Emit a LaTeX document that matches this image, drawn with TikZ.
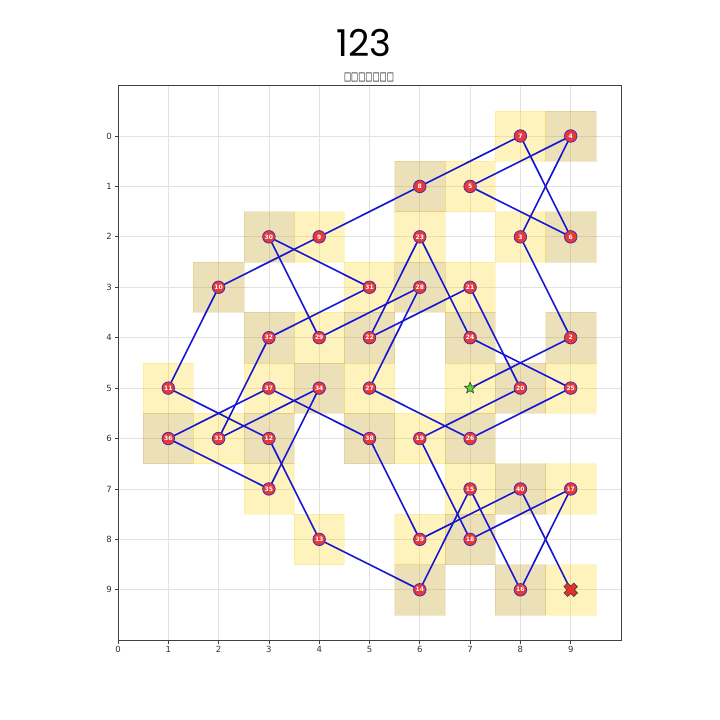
\documentclass[tikz,border=0pt]{standalone}
\usepackage{fontspec}
\setmainfont{DejaVu Sans}
\newfontfamily\titlefont{Poppins}
\usetikzlibrary{shapes.geometric}
\pgfdeclarelayer{back}
\pgfdeclarelayer{mid}
\pgfsetlayers{back,mid,main}
\definecolor{cellY}{RGB}{252,212,38}
\definecolor{cellT}{RGB}{195,155,25}
\definecolor{pathblue}{RGB}{22,22,210}
\definecolor{nodered}{RGB}{228,58,58}
\definecolor{nodeedge}{RGB}{80,40,165}
\definecolor{gridc}{RGB}{226,226,226}
\definecolor{starg}{RGB}{80,220,40}
\definecolor{xred}{RGB}{228,50,40}
\begin{document}
\begin{tikzpicture}[x=1pt,y=-1pt,
  pt/.style={circle, fill=nodered, draw=nodeedge, line width=0.8pt, minimum size=12.5pt, inner sep=0pt, font=\fontsize{6}{6}\selectfont\bfseries, text=white},
  link/.style={draw=pathblue, line width=1.6pt},
  ycell/.style={fill=cellY, fill opacity=0.3, draw=cellY, draw opacity=0.2, line width=0.5pt},
  tcell/.style={fill=cellT, fill opacity=0.3, draw=cellT, draw opacity=0.2, line width=0.5pt},
  gridline/.style={draw=gridc, line width=0.7pt},
  tickmark/.style={draw=black!75, line width=0.7pt},
  ticklab/.style={font=\fontsize{8.5}{9}\selectfont, text=black!80, inner sep=0pt}]
\useasboundingbox (0,0) rectangle (720,720);
\begin{pgfonlayer}{back}
  \fill[white] (0,0) rectangle (720,720);
\end{pgfonlayer}
\node[font=\titlefont\fontsize{37}{40}\selectfont, inner sep=0pt] (title) at (364,43) {123};
\node[font=\fontsize{10.5}{11}\selectfont, inner sep=0pt] (sub) at (369,77) {\scalebox{0.72}[1.1]{□□□□□□□}};
\begin{scope}[shift={(118pt,-136pt)}, x=50.3pt, y=-50.42pt]
  \begin{pgfonlayer}{back}
    \foreach \i in {0,...,9} {
      \draw[gridline] (\i,-1) -- (\i,10);
      \draw[gridline] (0,\i) -- (10,\i);
    }
    \foreach \x/\y in {8/0,7/1,4/2,6/2,8/2,5/3,7/3,4/4,1/5,3/5,5/5,7/5,9/5,2/6,6/6,3/7,7/7,9/7,4/8,6/8,9/9}
      \path[ycell] (\x-0.5,\y-0.5) rectangle (\x+0.5,\y+0.5);
    \foreach \x/\y in {9/0,6/1,3/2,9/2,2/3,6/3,3/4,5/4,7/4,9/4,4/5,8/5,1/6,3/6,5/6,7/6,8/7,7/8,6/9,8/9}
      \path[tcell] (\x-0.5,\y-0.5) rectangle (\x+0.5,\y+0.5);
  \end{pgfonlayer}
  % frame and ticks
  \draw[black!75, line width=0.8pt] (0,-1) rectangle (10,10);
  \foreach \i in {0,...,9} {
    \draw[tickmark] (\i,10) -- ++(0,-3.5pt);
    \draw[tickmark] (0,\i) -- ++(-3.5pt,0);
    \node[ticklab, anchor=north] (tx\i) at ([yshift=-6pt]\i,10) {\i};
    \node[ticklab, anchor=east] (ty\i) at ([xshift=-6pt]0,\i) {\i};
  }
  % nodes
  \node[star, star points=5, star point ratio=2.2, fill=starg, draw=black!75, line width=0.7pt, minimum size=11.5pt, inner sep=0pt] (n1) at (7,5) {};
  \foreach \n/\x/\y in {2/9/4,3/8/2,4/9/0,5/7/1,6/9/2,7/8/0,8/6/1,9/4/2,10/2/3,
      11/1/5,12/3/6,13/4/8,14/6/9,15/7/7,16/8/9,17/9/7,18/7/8,19/6/6,20/8/5,
      21/7/3,22/5/4,23/6/2,24/7/4,25/9/5,26/7/6,27/5/5,28/6/3,29/4/4,30/3/2,
      31/5/3,32/3/4,33/2/6,34/4/5,35/3/7,36/1/6,37/3/5,38/5/6,39/6/8,40/8/7}
    \node[pt] (n\n) at (\x,\y) {\n};
  \coordinate (n41) at (9,9);
  \begin{scope}[shift={(n41)}, rotate=45, x=1pt, y=1pt]
    \filldraw[fill=xred, draw=black!75, line width=0.6pt]
      (-7,-2.6) -- (-2.6,-2.6) -- (-2.6,-7) -- (2.6,-7) -- (2.6,-2.6) -- (7,-2.6) --
      (7,2.6) -- (2.6,2.6) -- (2.6,7) -- (-2.6,7) -- (-2.6,2.6) -- (-7,2.6) -- cycle;
  \end{scope}
  % path
  \begin{pgfonlayer}{mid}
    \foreach \a in {1,...,40} {
      \pgfmathtruncatemacro\b{\a+1}
      \draw[link] (n\a.center) -- (n\b.center);
    }
  \end{pgfonlayer}
\end{scope}
\end{tikzpicture}
\end{document}
